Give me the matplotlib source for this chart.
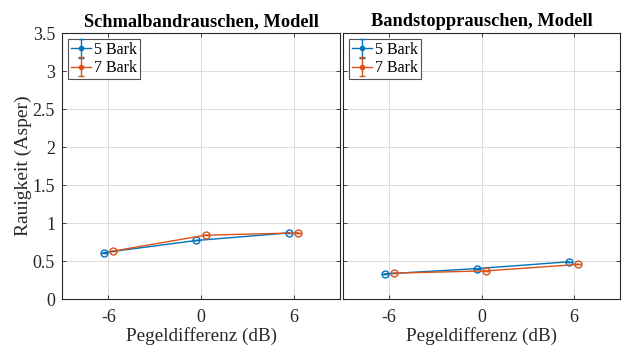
import matplotlib
matplotlib.use("Agg")
import matplotlib.pyplot as plt
from matplotlib.legend_handler import HandlerErrorbar
from matplotlib.container import ErrorbarContainer
import numpy as np

plt.rcParams['font.family'] = ['Liberation Serif', 'DejaVu Serif']
plt.rcParams['mathtext.fontset'] = 'stix'

levels = [-6, 0, 6]
tick_labels = ['-6', '0', '6']
titles = ['Schmalbandrauschen, Modell', 'Bandstopprauschen, Modell']
series_names = ['5 Bark', '7 Bark']
left_5 = [0.61, 0.77, 0.87]
left_7 = [0.63, 0.84, 0.87]
right_5 = [0.33, 0.40, 0.49]
right_7 = [0.34, 0.37, 0.455]
err_zero = [0, 0, 0]

colors = ['#0072BD', '#D95319']
offsets = [-0.3, 0.3]


class DotErrorbarHandler(HandlerErrorbar):
    def create_artists(self, *args, **kwargs):
        arts = super().create_artists(*args, **kwargs)
        marker = arts[-1]
        marker.set_markersize(3)
        marker.set_markerfacecolor(marker.get_color())
        for a in arts[:-2]:
            try:
                a.set_markersize(4)
            except Exception:
                pass
        return arts


fig = plt.figure(figsize=(6.24, 3.51), dpi=100)
ax1 = fig.add_axes([62/624, 52/351, 278/624, 266/351])
ax2 = fig.add_axes([343/624, 52/351, 277/624, 266/351])

data = [(left_5, left_7), (right_5, right_7)]
for ax, (s5, s7), title, show_y in zip([ax1, ax2], data, titles, [True, False]):
    for vals, c, off, name in zip([s5, s7], colors, offsets, series_names):
        x = np.array(levels) + off
        ax.errorbar(x, vals, yerr=err_zero, color=c, marker='o', markersize=5,
                    markerfacecolor='none', markeredgewidth=1.0, linewidth=1.0,
                    capsize=2, label=name)
    ax.set_xlim(-9, 9)
    ax.set_ylim(0, 3.5)
    ax.set_xticks(levels)
    ax.set_xticklabels(tick_labels)
    ax.set_yticks(np.arange(0, 3.51, 0.5))
    if show_y:
        ax.set_yticklabels(['0', '0.5', '1', '1.5', '2', '2.5', '3', '3.5'])
        ax.set_ylabel('Rauigkeit (Asper)', fontsize=14, color='#262626', labelpad=0.5)
    else:
        ax.set_yticklabels([])
    ax.set_xlabel('Pegeldifferenz (dB)', fontsize=13.8, color='#262626', labelpad=1)
    ax.set_title(title, fontsize=13.25, fontweight='bold', color='black', pad=5)
    ax.grid(True, color='#dcdcdc', linewidth=0.7)
    ax.set_axisbelow(True)
    ax.tick_params(direction='in', length=3, labelsize=13, colors='#262626',
                   top=True, right=True, width=0.6, pad=5)
    ax.tick_params(axis='x', pad=7)
    for sp in ax.spines.values():
        sp.set_color('#262626')
        sp.set_linewidth(0.8)
    leg = ax.legend(loc='upper left', fontsize=11.5, frameon=True, fancybox=False,
                    borderpad=0.2, labelspacing=0.15, handlelength=1.25,
                    handletextpad=0.2, borderaxespad=0.35,
                    handler_map={ErrorbarContainer: DotErrorbarHandler(yerr_size=0.6)})
    leg.get_frame().set_edgecolor('#262626')
    leg.get_frame().set_linewidth(0.8)

fig.savefig('out.png', dpi=100)
